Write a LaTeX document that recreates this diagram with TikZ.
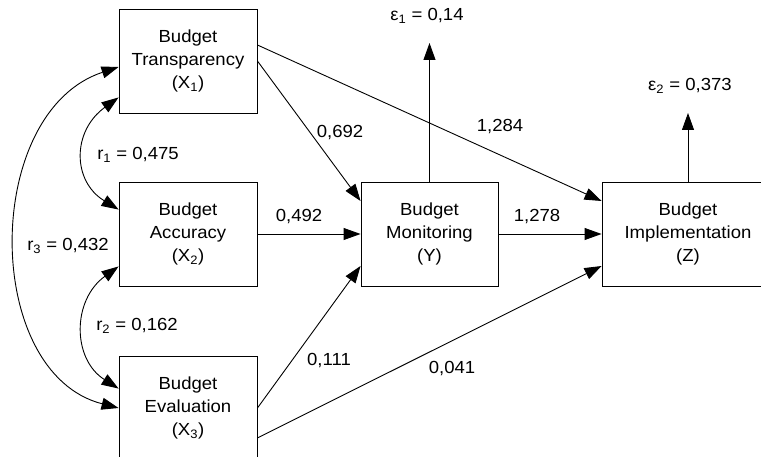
\documentclass[tikz,border=0pt]{standalone}
\usepackage{fontspec}
\setmainfont[FakeStretch=1.06]{Liberation Sans}
\usetikzlibrary{arrows.meta,calc}
\newcommand{\diafont}{\fontsize{17.5}{23}\selectfont}
\begin{document}
\begin{tikzpicture}[x=1pt,y=1pt,
  box/.style={draw, line width=0.9pt, minimum width=138pt, minimum height=104pt, align=center, inner sep=0pt, font=\diafont},
  lbl/.style={font=\diafont, inner sep=0pt},
  arr/.style={-{Triangle[length=17pt,width=12pt]}, line width=0.9pt},
  dbl/.style={{Triangle[length=17pt,width=12pt]}-{Triangle[length=17pt,width=12pt]}, line width=0.9pt}]
\useasboundingbox (0,0) rectangle (761,456);
% boxes
\node[box] (x1) at (188,395) {Budget\\Transparency\\(X\textsubscript{1})};
\node[box] (x2) at (188,222) {Budget\\Accuracy\\(X\textsubscript{2})};
\node[box] (x3) at (188,48) {Budget\\Evaluation\\(X\textsubscript{3})};
\node[box, minimum width=137pt] (y) at (429.5,222) {Budget\\Monitoring\\(Y)};
\node[box, minimum width=172pt] (z) at (688,222) {Budget\\Implementation\\(Z)};
% error terms
\coordinate (e1) at (429.5,413);
\coordinate (e2) at (688,343);
\draw[arr] (y.north) -- (e1);
\draw[arr] (z.north) -- (e2);
\node[lbl] (le1) at (427,440) {ε\textsubscript{1} = 0,14};
\node[lbl] (le2) at (690,370) {ε\textsubscript{2} = 0,373};
% paths
\draw[arr] (x1.east) -- ($(y.west)+(0,33)$);
\draw[arr] ($(x1.east)+(0,16)$) -- ($(z.west)+(0,33)$);
\draw[arr] (x2.east) -- (y.west);
\draw[arr] (y.east) -- (z.west);
\draw[arr] (x3.east) -- ($(y.west)+(0,-32)$);
\draw[arr] ($(x3.east)+(0,-30)$) -- ($(z.west)+(0,-32)$);
% path labels
\node[lbl] (l692) at (340,323) {0,692};
\node[lbl] (l492) at (299,239) {0,492};
\node[lbl] (l1284) at (500,329) {1,284};
\node[lbl] (l1278) at (537,239) {1,278};
\node[lbl] (l111) at (329,95) {0,111};
\node[lbl] (l041) at (452,87) {0,041};
% correlations
\draw[dbl] ($(x1.south west)+(0,16)$) .. controls (72,325) and (72,275) .. ($(x2.north west)+(0,-28)$);
\draw[dbl] ($(x2.south west)+(0,20)$) .. controls (72,156) and (72,97) .. ($(x3.north west)+(0,-33)$);
\draw[dbl] ($(x1.west)+(0,-6)$) .. controls (-18,344) and (-18,83) .. (x3.west);
\node[lbl] (lr1) at (138,301) {r\textsubscript{1} = 0,475};
\node[lbl] (lr2) at (137,130) {r\textsubscript{2} = 0,162};
\node[lbl] (lr3) at (68,210) {r\textsubscript{3} = 0,432};
\end{tikzpicture}
\end{document}
